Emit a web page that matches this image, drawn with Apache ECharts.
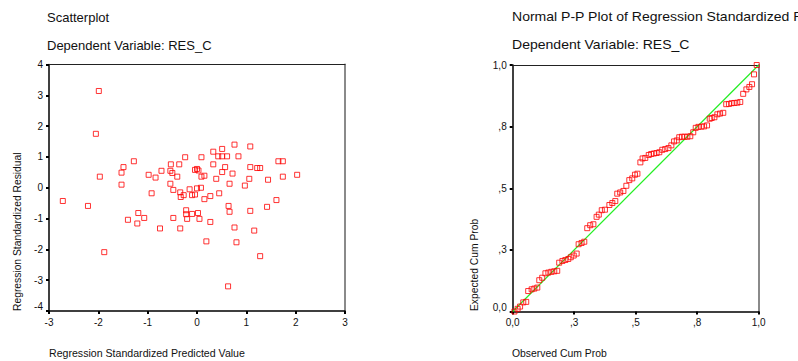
<!DOCTYPE html>
<html>
<head>
<meta charset="utf-8">
<script src="https://cdn.jsdelivr.net/npm/echarts@6/dist/echarts.min.js"></script>
<style>
html,body{margin:0;padding:0;background:#fff;}
#chart{width:798px;height:361px;}
</style>
</head>
<body>
<div id="chart"></div>
<script>
// Scatterplot: [predicted, residual]
const scatterPoints = [
  [-1.99, 3.14], [-2.05, 1.75], [-1.97, 0.36], [-1.28, 0.86], [-1.49, 0.67], [-1.53, 0.49],
  [-1.53, 0.10], [-0.98, 0.42], [-0.84, 0.33], [-0.72, 0.55], [-0.53, 0.76], [-0.36, 0.76],
  [-0.24, 0.99], [-0.54, 0.55], [-0.50, 0.48], [-0.40, 0.36], [-0.54, 0.13], [-0.04, 0.58],
  [0.00, 0.61], [0.03, 0.56], [0.09, 0.99], [0.09, 0.36], [0.15, 0.39], [0.33, 1.17],
  [0.33, 0.76], [0.39, 0.29], [0.51, 1.26], [0.43, 1.02], [0.51, 1.02], [0.61, 1.02],
  [0.57, 0.67], [0.51, 0.51], [0.72, 0.46], [0.66, 0.13], [0.76, 1.40], [0.84, 1.02],
  [1.08, 1.34], [1.08, 0.67], [1.06, 0.29], [0.97, 0.07], [1.22, 0.64], [1.28, 0.64],
  [1.44, 0.26], [1.65, 0.86], [1.74, 0.86], [1.74, 0.36], [2.03, 0.42],
  [-2.72, -0.43], [-2.21, -0.59], [-1.88, -2.09], [-0.92, -0.18], [-1.40, -1.04], [-1.19, -0.82],
  [-1.21, -1.16], [-1.07, -0.98], [-0.75, -1.32], [-0.48, -0.07], [-0.48, -0.98], [-0.34, -0.15],
  [-0.33, -0.30], [-0.27, -0.24], [-0.34, -1.32], [-0.22, -0.73], [-0.22, -0.86], [-0.20, -1.01],
  [-0.15, -0.05], [-0.10, -0.24], [-0.04, -0.22], [-0.10, -0.85], [0.00, -0.02], [0.08, 0.00],
  [0.02, -0.82], [0.05, -1.01], [0.15, -0.37], [0.27, -0.27], [0.27, -1.11], [0.19, -1.74],
  [0.45, -0.18], [0.64, -0.59], [0.66, -0.78], [0.76, -1.29], [0.80, -1.77], [0.63, -3.20],
  [1.08, -0.75], [1.16, -1.39], [1.28, -2.22], [1.42, -0.62], [1.61, -0.40]
];

// Normal P-P plot: [observed cum prob, expected cum prob]
const ppPoints = [
  [0.007, 0.000], [0.020, 0.011], [0.030, 0.020], [0.043, 0.037], [0.055, 0.039], [0.063, 0.083],
  [0.077, 0.090], [0.088, 0.093], [0.100, 0.097], [0.108, 0.127], [0.120, 0.137], [0.133, 0.155],
  [0.145, 0.158], [0.157, 0.161], [0.169, 0.163], [0.181, 0.165], [0.189, 0.198], [0.202, 0.205],
  [0.214, 0.209], [0.226, 0.213], [0.236, 0.220], [0.248, 0.227], [0.260, 0.235], [0.268, 0.273],
  [0.280, 0.278], [0.291, 0.283], [0.303, 0.338], [0.315, 0.350], [0.328, 0.354], [0.341, 0.384],
  [0.350, 0.393], [0.362, 0.411], [0.375, 0.413], [0.393, 0.432], [0.405, 0.440], [0.417, 0.448],
  [0.425, 0.478], [0.437, 0.483], [0.450, 0.489], [0.462, 0.510], [0.474, 0.533], [0.486, 0.540],
  [0.497, 0.555], [0.507, 0.559], [0.519, 0.605], [0.528, 0.621], [0.539, 0.623], [0.553, 0.635],
  [0.563, 0.639], [0.574, 0.641], [0.585, 0.643], [0.596, 0.646], [0.608, 0.656], [0.620, 0.659],
  [0.633, 0.663], [0.645, 0.674], [0.656, 0.690], [0.667, 0.694], [0.677, 0.707], [0.688, 0.709],
  [0.699, 0.709], [0.710, 0.709], [0.722, 0.711], [0.734, 0.727], [0.744, 0.745], [0.755, 0.749],
  [0.767, 0.750], [0.778, 0.751], [0.790, 0.755], [0.801, 0.782], [0.809, 0.785], [0.820, 0.788],
  [0.832, 0.800], [0.843, 0.803], [0.856, 0.806], [0.868, 0.841], [0.879, 0.842], [0.890, 0.845],
  [0.901, 0.846], [0.913, 0.847], [0.925, 0.850], [0.937, 0.883], [0.950, 0.901], [0.962, 0.911],
  [0.973, 0.922], [0.981, 0.962], [0.992, 1.000]
];

const refLine = [[0, 0], [1, 1]];

const ppTickValues = [0, 0.25, 0.5, 0.75, 1];
const ppTickLabels = ['0,0', ',3', ',5', ',8', '1,0'];

const titleLeft = 'Scatterplot';
const titleRight = 'Normal P-P Plot of Regression Standardized Residual';
const subTitle = 'Dependent Variable: RES_C';
const scatterXName = 'Regression Standardized Predicted Value';
const scatterYName = 'Regression Standardized Residual';
const ppXName = 'Observed Cum Prob';
const ppYName = 'Expected Cum Prob';

const FONT = '"Liberation Sans", Arial, Helvetica, sans-serif';
const TXT = '#111';

function ppLabel(v) {
  for (let i = 0; i < ppTickValues.length; i++) {
    if (Math.abs(v - ppTickValues[i]) < 1e-9) return ppTickLabels[i];
  }
  return '';
}

const baseAxisLine = { show: true, lineStyle: { color: '#000', width: 1.5 } };
const baseTick = { show: true, inside: false, length: 3, lineStyle: { color: '#000', width: 2 } };
const baseLabel = { color: TXT, fontSize: 10, fontFamily: FONT, margin: 6 };
const minLabelRich = { lo: { padding: [0, 0, 9, 0], fontSize: 10, fontFamily: FONT, color: TXT } };

const hiddenAxisCommon = {
  axisTick: { show: false }, axisLabel: { show: false }, splitLine: { show: false }
};

function txt(text, x, y, size, rot, sx) {
  const el = { type: 'text', x: x, y: y,
    style: { text: text, fill: TXT, font: size + 'px ' + FONT, textVerticalAlign: 'middle', textAlign: 'left' } };
  if (rot) el.rotation = rot;
  if (sx) el.scaleX = sx;
  return el;
}

const chart = echarts.init(document.getElementById('chart'), null, { renderer: 'svg' });

chart.setOption({
  animation: false,
  backgroundColor: '#fff',
  textStyle: { fontFamily: FONT },
  grid: [
    { left: 49, top: 64.5, width: 296, height: 246.5 },
    { left: 512.7, top: 65, width: 246, height: 246.5 }
  ],
  xAxis: [
    { gridIndex: 0, type: 'value', min: -3, max: 3, interval: 1, position: 'bottom',
      axisLine: { ...baseAxisLine, onZero: false }, axisTick: baseTick, axisLabel: baseLabel, splitLine: { show: false } },
    { gridIndex: 1, type: 'value', min: 0, max: 1, interval: 0.25, position: 'bottom',
      axisLine: { ...baseAxisLine, onZero: false }, axisTick: baseTick,
      axisLabel: { ...baseLabel, formatter: ppLabel }, splitLine: { show: false } },
    { gridIndex: 0, type: 'value', min: -3, max: 3, position: 'top',
      axisLine: { show: true, onZero: false, lineStyle: { color: '#222', width: 1.2 } }, ...hiddenAxisCommon },
    { gridIndex: 1, type: 'value', min: 0, max: 1, position: 'top',
      axisLine: { show: true, onZero: false, lineStyle: { color: '#222', width: 1.2 } }, ...hiddenAxisCommon }
  ],
  yAxis: [
    { gridIndex: 0, type: 'value', min: -4, max: 4, interval: 1, position: 'left',
      axisLine: { ...baseAxisLine, onZero: false }, axisTick: baseTick,
      axisLabel: { ...baseLabel, rich: minLabelRich,
        formatter: function (v) { return v === -4 ? '{lo|' + v + '}' : String(v); } },
      splitLine: { show: false } },
    { gridIndex: 1, type: 'value', min: 0, max: 1, interval: 0.25, position: 'left',
      axisLine: { ...baseAxisLine, onZero: false }, axisTick: baseTick,
      axisLabel: { ...baseLabel, rich: minLabelRich,
        formatter: function (v) { const s = ppLabel(v); return v === 0 ? '{lo|' + s + '}' : s; } },
      splitLine: { show: false } },
    { gridIndex: 0, type: 'value', min: -4, max: 4, position: 'right',
      axisLine: { show: true, onZero: false, lineStyle: { color: '#8a8a8a', width: 2 } }, ...hiddenAxisCommon },
    { gridIndex: 1, type: 'value', min: 0, max: 1, position: 'right',
      axisLine: { show: true, onZero: false, lineStyle: { color: '#8a8a8a', width: 2 } }, ...hiddenAxisCommon }
  ],
  series: [
    { type: 'scatter', xAxisIndex: 0, yAxisIndex: 0, data: scatterPoints,
      symbol: 'rect', symbolSize: 5, z: 3,
      itemStyle: { color: 'rgba(255,255,255,0)', borderColor: '#ff0000', borderWidth: 1 } },
    { type: 'line', xAxisIndex: 1, yAxisIndex: 1, data: refLine, symbol: 'none', z: 2,
      lineStyle: { color: '#22ee22', width: 1.2 } },
    { type: 'scatter', xAxisIndex: 1, yAxisIndex: 1, data: ppPoints,
      symbol: 'rect', symbolSize: 5, z: 3,
      itemStyle: { color: 'rgba(255,255,255,0)', borderColor: '#ff0000', borderWidth: 1 } }
  ],
  graphic: [
    txt(titleLeft, 47, 17, 13),
    txt(subTitle, 47, 45, 13),
    txt(titleRight, 512, 17, 13, 0, 1.08),
    txt(subTitle, 512, 45, 13, 0, 1.08),
    txt(scatterXName, 49, 352.5, 10.6),
    txt(ppXName, 512, 353.5, 10.4),
    txt(scatterYName, 17, 311, 10.3, Math.PI / 2),
    txt(ppYName, 474, 311, 10.3, Math.PI / 2)
  ]
});
</script>
</body>
</html>
